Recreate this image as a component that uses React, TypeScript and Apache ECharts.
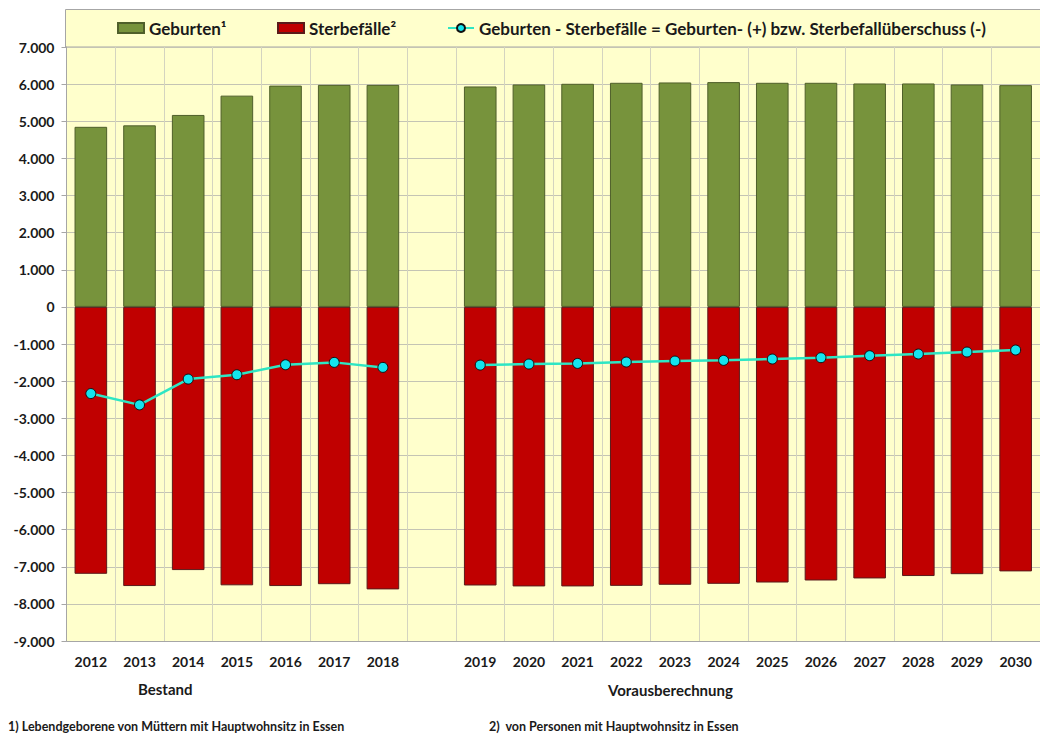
import React, { useEffect, useRef } from "react";
import * as echarts from "echarts";

const categories = [
  "2012", "2013", "2014", "2015", "2016", "2017", "2018", "",
  "2019", "2020", "2021", "2022", "2023", "2024", "2025", "2026", "2027", "2028", "2029", "2030",
];
const births = [
  4850, 4890, 5170, 5690, 5960, 5980, 5980, null,
  5937, 5991, 6009, 6036, 6045, 6054, 6036, 6036, 6018, 6018, 5991, 5973,
];
const deaths = [
  -7190, -7520, -7090, -7500, -7520, -7470, -7610, null,
  -7505, -7530, -7530, -7515, -7486, -7460, -7425, -7370, -7315, -7250, -7200, -7125,
];
const balance = [
  -2335, -2640, -1945, -1828, -1559, -1495, -1630, null,
  -1568, -1540, -1523, -1486, -1459, -1441, -1405, -1369, -1315, -1270, -1216, -1162,
];
const seriesNames = [
  "Geburten\u00B9",
  "Sterbef\u00E4lle\u00B2",
  "Geburten - Sterbef\u00E4lle = Geburten- (+) bzw. Sterbefall\u00FCberschuss (-)",
];
const yMin = -9000;
const yMax = 7000;
const yStep = 1000;
const sectionLabels = ["Bestand", "Vorausberechnung"];
const footnotes = [
  "1) Lebendgeborene von M\u00FCttern mit Hauptwohnsitz in Essen",
  "2)  von Personen mit Hauptwohnsitz in Essen",
];

const FONT = "Lato, 'Open Sans', sans-serif";

function fmt(v: number): string {
  const s = Math.abs(v).toString().replace(/\B(?=(\d{3})+(?!\d))/g, ".");
  return (v < 0 ? "-" : "") + s;
}

export default function App() {
  const ref = useRef<HTMLDivElement>(null);
  useEffect(() => {
    if (!ref.current) return;
    const chart = echarts.init(ref.current, null, { renderer: "svg" });
    const legendText = {
      fontFamily: FONT, fontWeight: "bold", fontSize: 17, lineHeight: 18, color: "#1a1a1a",
    };
    const legendBase = {
      top: 19, padding: 0, itemWidth: 26, itemHeight: 10, itemGap: 4, textStyle: legendText,
    };
    const option: any = {
      animation: false,
      backgroundColor: "#ffffff",
      graphic: [
        {
          type: "rect",
          z: -10,
          shape: { x: 65.5, y: 9.5, width: 1000, height: 37.5 },
          style: { fill: "#FFFFCC", stroke: "#a6a6a6", lineWidth: 1 },
        },
        {
          type: "text",
          left: 138,
          top: 681,
          style: { text: sectionLabels[0], font: `bold 15px ${FONT}`, fill: "#1a1a1a" },
        },
        {
          type: "text",
          left: 608,
          top: 682,
          style: { text: sectionLabels[1], font: `bold 15px ${FONT}`, fill: "#1a1a1a" },
        },
        {
          type: "text",
          left: 8,
          top: 720,
          style: { text: footnotes[0], font: `bold 12.5px ${FONT}`, fill: "#1a1a1a" },
        },
        {
          type: "text",
          left: 489,
          top: 720,
          style: { text: footnotes[1], font: `bold 12.5px ${FONT}`, fill: "#1a1a1a" },
        },
      ],
      legend: [
        { ...legendBase, data: [{ name: seriesNames[0], icon: "rect" }], left: 117 },
        { ...legendBase, data: [{ name: seriesNames[1], icon: "rect" }], left: 277 },
        { ...legendBase, data: [seriesNames[2]], left: 447 },
      ],
      grid: {
        left: 66.5,
        right: -4.5,
        top: 47,
        bottom: 95,
        show: true,
        backgroundColor: "#FFFFCC",
        borderWidth: 0,
      },
      xAxis: {
        type: "category",
        data: categories,
        boundaryGap: true,
        axisLine: { onZero: false, lineStyle: { color: "#a6a6a6", width: 1 } },
        axisTick: { show: false },
        axisLabel: {
          interval: 0,
          margin: 13,
          fontFamily: FONT,
          fontWeight: "bold",
          fontSize: 14,
          color: "#1a1a1a",
        },
        splitLine: { show: true, interval: 0, lineStyle: { color: "#d4d4c0", width: 1 } },
      },
      yAxis: {
        type: "value",
        min: yMin,
        max: yMax,
        interval: yStep,
        axisLine: { show: true, lineStyle: { color: "#a6a6a6", width: 1 } },
        axisTick: { show: true, length: 5, lineStyle: { color: "#a6a6a6" } },
        axisLabel: {
          formatter: (v: number) => fmt(v),
          margin: 12,
          fontFamily: FONT,
          fontWeight: "bold",
          fontSize: 14,
          color: "#1a1a1a",
        },
        splitLine: { show: true, lineStyle: { color: "#c4c4b4", width: 1 } },
      },
      series: [
        {
          name: seriesNames[0],
          type: "bar",
          stack: "total",
          data: births,
          barWidth: "67%",
          itemStyle: { color: "#77933C", borderColor: "#4F5F2A", borderWidth: 1 },
        },
        {
          name: seriesNames[1],
          type: "bar",
          stack: "total",
          data: deaths,
          barWidth: "67%",
          itemStyle: { color: "#C00000", borderColor: "#5a1a1a", borderWidth: 1 },
        },
        {
          name: seriesNames[2],
          type: "line",
          data: balance,
          z: 5,
          connectNulls: false,
          symbol: "circle",
          symbolSize: 10,
          lineStyle: { color: "#2EE6C4", width: 2.5 },
          itemStyle: { color: "#14E4EE", borderColor: "#111", borderWidth: 1 },
        },
      ],
    };
    chart.setOption(option);
    return () => chart.dispose();
  }, []);
  return (
    <div
      ref={ref}
      style={{ position: "absolute", left: 0, top: 0, width: 1040, height: 736 }}
    />
  );
}
